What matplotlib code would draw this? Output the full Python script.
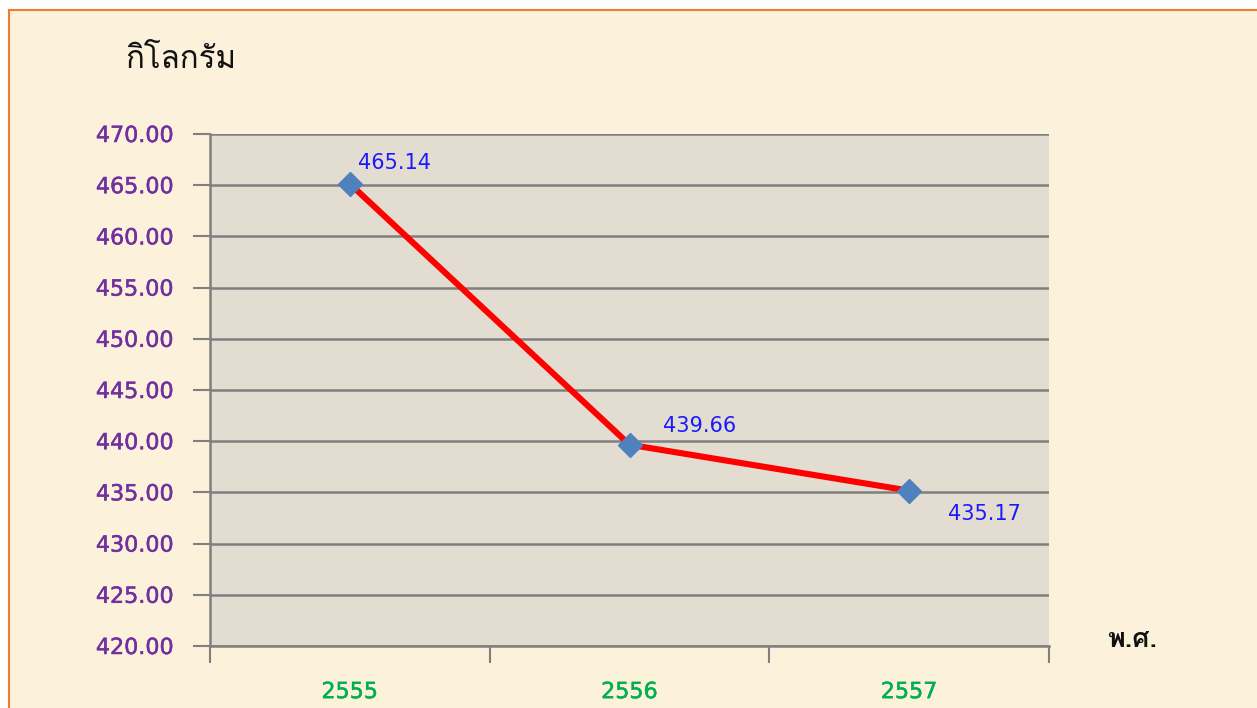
import matplotlib
matplotlib.use("Agg")
import matplotlib.pyplot as plt
import matplotlib.patheffects as pe
from matplotlib import font_manager
from matplotlib.ft2font import FT2Font
from matplotlib.lines import Line2D

years = ["2555", "2556", "2557"]
values = [465.14, 439.66, 435.17]
y_ticks = [420, 425, 430, 435, 440, 445, 450, 455, 460, 465, 470]
y_label = "กิโลกรัม"
x_label = "พ.ศ."

# find a font with Thai glyphs
thai_font = None
for f in font_manager.fontManager.ttflist:
    try:
        cm = FT2Font(f.fname).get_charmap()
        if 0x0E01 in cm and 0x0E28 in cm:
            thai_font = f.name
            break
    except Exception:
        pass
thai_family = [thai_font, "DejaVu Sans"] if thai_font else ["DejaVu Sans"]

W, H = 1257, 708
fig = plt.figure(figsize=(W / 100, H / 100), dpi=100)
fig.patch.set_facecolor("#fcf1da")

ax = fig.add_axes([210 / W, 1 - 646 / H, (1049 - 210) / W, (646 - 134) / H])
ax.set_facecolor("#e3dcd0")

x = list(range(len(years)))
ax.plot(x, values, color="#ff0000", lw=4.4, zorder=3, solid_capstyle="round")
ax.plot(x, values, linestyle="none", marker="D", ms=12, color="#4f81bd", zorder=4)

ax.set_xlim(-0.5, len(years) - 0.5)
ax.set_ylim(420, 470)
ax.set_yticks(y_ticks)
ax.set_yticklabels([f"{v:.2f}" for v in y_ticks], color="#7030a0", fontsize=16)
ax.set_xticks([i - 0.5 for i in range(len(years) + 1)])
ax.set_xticklabels([])
ax.set_xticks(x, minor=True)
ax.set_xticklabels(years, minor=True, color="#00b050", fontsize=16)
ax.tick_params(axis="x", which="minor", length=0, pad=26)
ax.tick_params(axis="x", which="major", length=12, width=1.5, color="#808080")
ax.tick_params(axis="y", length=12, width=1.5, color="#808080", pad=14)

thick_purple = [pe.withStroke(linewidth=0.35, foreground="#7030a0")]
thick_green = [pe.withStroke(linewidth=0.35, foreground="#00b050")]
for t in ax.get_yticklabels():
    t.set_path_effects(thick_purple)
for t in ax.get_xticklabels(minor=True):
    t.set_path_effects(thick_green)

ax.grid(axis="y", color="#808080", lw=1.8)
for s in ["top", "right"]:
    ax.spines[s].set_visible(False)
for s in ["left", "bottom"]:
    ax.spines[s].set_color("#808080")
    ax.spines[s].set_linewidth(1.8)

offsets = [(6, 8, "left", "bottom"), (24, 6, "left", "bottom"), (28, -9.5, "left", "top")]
for xi, v, (dx, dy, ha, va) in zip(x, values, offsets):
    ax.annotate(f"{v:.2f}", (xi, v), xytext=(dx, dy), textcoords="offset points",
                ha=ha, va=va, color="#1a1aff", fontsize=15, zorder=5)

fig.text(125 / W, 1 - 60 / H, y_label, family=thai_family, fontsize=22.5,
         ha="left", va="center", color="#111111")
fig.text(1107 / W, 1 - 640 / H, x_label, family=thai_family, fontsize=19.5,
         fontweight="bold", ha="left", va="center", color="#111111")

# orange frame
fig.add_artist(Line2D([8.5 / W, 8.5 / W], [0, 1 - 9.5 / H], transform=fig.transFigure,
                      color="#ed7d31", lw=1.5))
fig.add_artist(Line2D([8.5 / W, 1], [1 - 9.5 / H, 1 - 9.5 / H], transform=fig.transFigure,
                      color="#ed7d31", lw=1.5))
fig.patches.append(plt.Rectangle((0, 1 - 9 / H), 1, 9 / H, transform=fig.transFigure,
                                 color="white", zorder=-1))
fig.patches.append(plt.Rectangle((0, 0), 8 / W, 1, transform=fig.transFigure,
                                 color="white", zorder=-1))

fig.savefig("out.png", dpi=100, facecolor=fig.get_facecolor())
